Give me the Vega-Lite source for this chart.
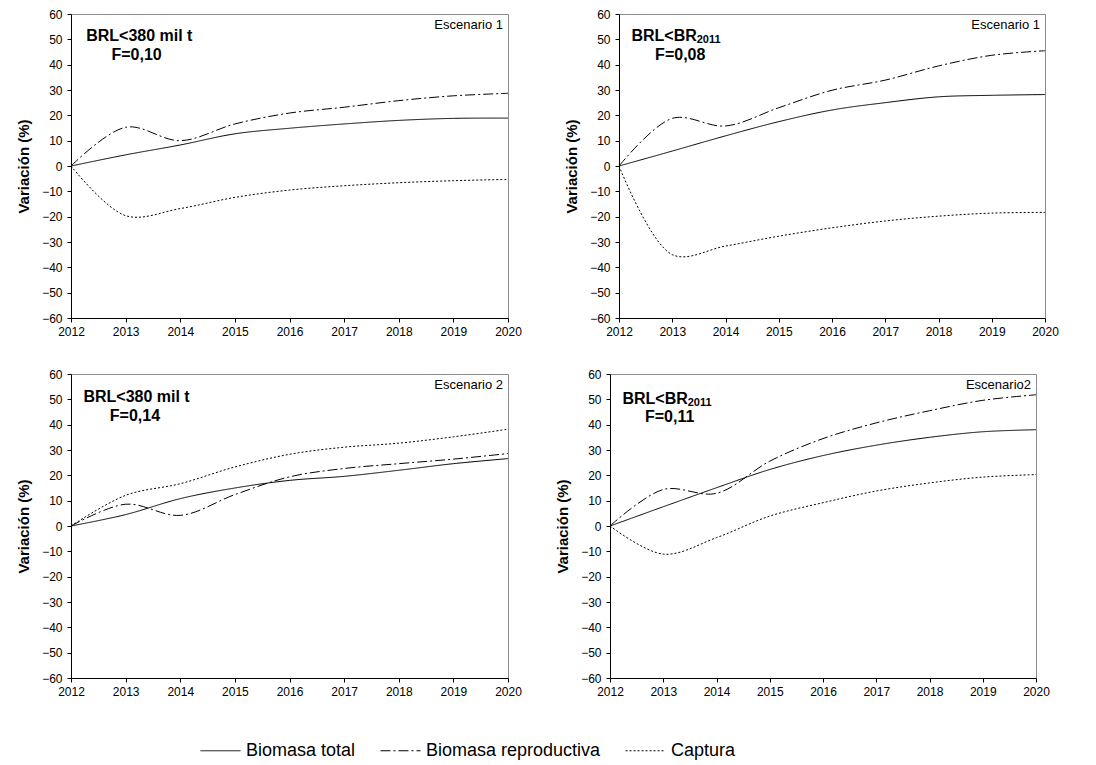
{
  "$schema": "https://vega.github.io/schema/vega-lite/v6.json",
  "padding": {"left": 16, "top": 7, "right": 5, "bottom": 5},
  "background": "white",
  "datasets": {
    "series": [
      {"p": 1, "year": 2012, "Biomasa total": 0, "Biomasa reproductiva": 0, "Captura": 0},
      {"p": 1, "year": 2013, "Biomasa total": 4.4, "Biomasa reproductiva": 15.3, "Captura": -19.6},
      {"p": 1, "year": 2014, "Biomasa total": 8.3, "Biomasa reproductiva": 10.0, "Captura": -16.8},
      {"p": 1, "year": 2015, "Biomasa total": 12.7, "Biomasa reproductiva": 16.6, "Captura": -12.4},
      {"p": 1, "year": 2016, "Biomasa total": 14.9, "Biomasa reproductiva": 20.9, "Captura": -9.5},
      {"p": 1, "year": 2017, "Biomasa total": 16.6, "Biomasa reproductiva": 23.2, "Captura": -7.8},
      {"p": 1, "year": 2018, "Biomasa total": 18.0, "Biomasa reproductiva": 25.8, "Captura": -6.6},
      {"p": 1, "year": 2019, "Biomasa total": 18.8, "Biomasa reproductiva": 27.7, "Captura": -5.8},
      {"p": 1, "year": 2020, "Biomasa total": 18.9, "Biomasa reproductiva": 28.7, "Captura": -5.3},
      {"p": 2, "year": 2012, "Biomasa total": 0, "Biomasa reproductiva": 0, "Captura": 0},
      {"p": 2, "year": 2013, "Biomasa total": 5.9, "Biomasa reproductiva": 18.8, "Captura": -35.0},
      {"p": 2, "year": 2014, "Biomasa total": 11.9, "Biomasa reproductiva": 15.8, "Captura": -31.6},
      {"p": 2, "year": 2015, "Biomasa total": 17.5, "Biomasa reproductiva": 23.0, "Captura": -27.7},
      {"p": 2, "year": 2016, "Biomasa total": 22.1, "Biomasa reproductiva": 29.9, "Captura": -24.4},
      {"p": 2, "year": 2017, "Biomasa total": 25.0, "Biomasa reproductiva": 33.9, "Captura": -21.7},
      {"p": 2, "year": 2018, "Biomasa total": 27.3, "Biomasa reproductiva": 39.5, "Captura": -19.8},
      {"p": 2, "year": 2019, "Biomasa total": 27.9, "Biomasa reproductiva": 43.7, "Captura": -18.6},
      {"p": 2, "year": 2020, "Biomasa total": 28.2, "Biomasa reproductiva": 45.5, "Captura": -18.3},
      {"p": 3, "year": 2012, "Biomasa total": 0, "Biomasa reproductiva": 0, "Captura": 0},
      {"p": 3, "year": 2013, "Biomasa total": 4.5, "Biomasa reproductiva": 8.6, "Captura": 12.1},
      {"p": 3, "year": 2014, "Biomasa total": 10.8, "Biomasa reproductiva": 4.2, "Captura": 16.7},
      {"p": 3, "year": 2015, "Biomasa total": 15.0, "Biomasa reproductiva": 12.4, "Captura": 23.3},
      {"p": 3, "year": 2016, "Biomasa total": 18.0, "Biomasa reproductiva": 19.4, "Captura": 28.3},
      {"p": 3, "year": 2017, "Biomasa total": 19.6, "Biomasa reproductiva": 22.7, "Captura": 31.1},
      {"p": 3, "year": 2018, "Biomasa total": 22.0, "Biomasa reproductiva": 24.6, "Captura": 32.7},
      {"p": 3, "year": 2019, "Biomasa total": 24.6, "Biomasa reproductiva": 26.4, "Captura": 35.2},
      {"p": 3, "year": 2020, "Biomasa total": 26.6, "Biomasa reproductiva": 28.6, "Captura": 38.2},
      {"p": 4, "year": 2012, "Biomasa total": 0, "Biomasa reproductiva": 0, "Captura": 0},
      {"p": 4, "year": 2013, "Biomasa total": 7.6, "Biomasa reproductiva": 14.4, "Captura": -11.1},
      {"p": 4, "year": 2014, "Biomasa total": 15.1, "Biomasa reproductiva": 12.9, "Captura": -4.6},
      {"p": 4, "year": 2015, "Biomasa total": 22.3, "Biomasa reproductiva": 25.6, "Captura": 3.9},
      {"p": 4, "year": 2016, "Biomasa total": 27.8, "Biomasa reproductiva": 34.5, "Captura": 9.2},
      {"p": 4, "year": 2017, "Biomasa total": 31.9, "Biomasa reproductiva": 40.7, "Captura": 13.8},
      {"p": 4, "year": 2018, "Biomasa total": 35.0, "Biomasa reproductiva": 45.5, "Captura": 17.0},
      {"p": 4, "year": 2019, "Biomasa total": 37.2, "Biomasa reproductiva": 49.6, "Captura": 19.3},
      {"p": 4, "year": 2020, "Biomasa total": 38.0, "Biomasa reproductiva": 51.8, "Captura": 20.3}
    ],
    "one": [{}]
  },
  "vconcat": [
    {
      "hconcat": [
        {
          "width": 437, "height": 304,
          "encoding": {
            "x": {"type": "quantitative", "scale": {"domain": [2012, 2020], "nice": false, "zero": false}, "axis": {"title": null, "values": [2012, 2013, 2014, 2015, 2016, 2017, 2018, 2019, 2020], "format": "d"}},
            "y": {"type": "quantitative", "scale": {"domain": [-60, 60], "nice": false}, "axis": {"title": "Variación (%)", "values": [-60, -50, -40, -30, -20, -10, 0, 10, 20, 30, 40, 50, 60]}}
          },
          "layer": [
            {
              "data": {"name": "series"},
              "transform": [{"filter": "datum.p == 1"}, {"fold": ["Biomasa total", "Biomasa reproductiva", "Captura"], "as": ["serie", "valor"]}],
              "mark": {"type": "line", "color": "black", "strokeWidth": 1, "interpolate": "catmull-rom"},
              "encoding": {
                "x": {"field": "year"},
                "y": {"field": "valor"},
                "strokeDash": {"field": "serie", "type": "nominal", "title": null, "scale": {"domain": ["Biomasa total", "Biomasa reproductiva", "Captura"], "range": [[1, 0], [10, 3, 2, 3], [2, 2]]}}
              }
            },
            {"data": {"name": "one"}, "mark": {"type": "text", "text": "BRL<380 mil t", "fontWeight": "bold", "fontSize": 16, "align": "center", "baseline": "middle"}, "encoding": {"x": {"datum": 2013.25}, "y": {"datum": 51.2}}},
            {"data": {"name": "one"}, "mark": {"type": "text", "text": "F=0,10", "fontWeight": "bold", "fontSize": 16, "align": "center", "baseline": "middle"}, "encoding": {"x": {"datum": 2013.2}, "y": {"datum": 43.7}}},
            {"data": {"name": "one"}, "mark": {"type": "text", "text": "Escenario 1", "fontSize": 13, "align": "right", "baseline": "top", "dx": -5, "dy": 5}, "encoding": {"x": {"datum": 2020}, "y": {"datum": 60}}}
          ]
        },
        {
          "width": 426, "height": 304,
          "encoding": {
            "x": {"type": "quantitative", "scale": {"domain": [2012, 2020], "nice": false, "zero": false}, "axis": {"title": null, "values": [2012, 2013, 2014, 2015, 2016, 2017, 2018, 2019, 2020], "format": "d"}},
            "y": {"type": "quantitative", "scale": {"domain": [-60, 60], "nice": false}, "axis": {"title": "Variación (%)", "values": [-60, -50, -40, -30, -20, -10, 0, 10, 20, 30, 40, 50, 60]}}
          },
          "layer": [
            {
              "data": {"name": "series"},
              "transform": [{"filter": "datum.p == 2"}, {"fold": ["Biomasa total", "Biomasa reproductiva", "Captura"], "as": ["serie", "valor"]}],
              "mark": {"type": "line", "color": "black", "strokeWidth": 1, "interpolate": "catmull-rom"},
              "encoding": {
                "x": {"field": "year"},
                "y": {"field": "valor"},
                "strokeDash": {"field": "serie", "type": "nominal", "title": null, "scale": {"domain": ["Biomasa total", "Biomasa reproductiva", "Captura"], "range": [[1, 0], [10, 3, 2, 3], [2, 2]]}}
              }
            },
            {"data": {"name": "one"}, "mark": {"type": "text", "text": "BRL<BR", "fontWeight": "bold", "fontSize": 16, "align": "right", "baseline": "middle"}, "encoding": {"x": {"datum": 2013.46}, "y": {"datum": 51.2}}},
            {"data": {"name": "one"}, "mark": {"type": "text", "text": "2011", "fontWeight": "bold", "fontSize": 11, "align": "left", "baseline": "middle", "dy": 4}, "encoding": {"x": {"datum": 2013.46}, "y": {"datum": 51.2}}},
            {"data": {"name": "one"}, "mark": {"type": "text", "text": "F=0,08", "fontWeight": "bold", "fontSize": 16, "align": "center", "baseline": "middle"}, "encoding": {"x": {"datum": 2013.15}, "y": {"datum": 43.7}}},
            {"data": {"name": "one"}, "mark": {"type": "text", "text": "Escenario 1", "fontSize": 13, "align": "right", "baseline": "top", "dx": -5, "dy": 5}, "encoding": {"x": {"datum": 2020}, "y": {"datum": 60}}}
          ]
        }
      ],
      "spacing": 42
    },
    {
      "hconcat": [
        {
          "width": 437, "height": 304,
          "encoding": {
            "x": {"type": "quantitative", "scale": {"domain": [2012, 2020], "nice": false, "zero": false}, "axis": {"title": null, "values": [2012, 2013, 2014, 2015, 2016, 2017, 2018, 2019, 2020], "format": "d"}},
            "y": {"type": "quantitative", "scale": {"domain": [-60, 60], "nice": false}, "axis": {"title": "Variación (%)", "values": [-60, -50, -40, -30, -20, -10, 0, 10, 20, 30, 40, 50, 60]}}
          },
          "layer": [
            {
              "data": {"name": "series"},
              "transform": [{"filter": "datum.p == 3"}, {"fold": ["Biomasa total", "Biomasa reproductiva", "Captura"], "as": ["serie", "valor"]}],
              "mark": {"type": "line", "color": "black", "strokeWidth": 1, "interpolate": "catmull-rom"},
              "encoding": {
                "x": {"field": "year"},
                "y": {"field": "valor"},
                "strokeDash": {"field": "serie", "type": "nominal", "title": null, "scale": {"domain": ["Biomasa total", "Biomasa reproductiva", "Captura"], "range": [[1, 0], [10, 3, 2, 3], [2, 2]]}}
              }
            },
            {"data": {"name": "one"}, "mark": {"type": "text", "text": "BRL<380 mil t", "fontWeight": "bold", "fontSize": 16, "align": "center", "baseline": "middle"}, "encoding": {"x": {"datum": 2013.2}, "y": {"datum": 50.9}}},
            {"data": {"name": "one"}, "mark": {"type": "text", "text": "F=0,14", "fontWeight": "bold", "fontSize": 16, "align": "center", "baseline": "middle"}, "encoding": {"x": {"datum": 2013.17}, "y": {"datum": 43.4}}},
            {"data": {"name": "one"}, "mark": {"type": "text", "text": "Escenario 2", "fontSize": 13, "align": "right", "baseline": "top", "dx": -5, "dy": 5}, "encoding": {"x": {"datum": 2020}, "y": {"datum": 60}}}
          ]
        },
        {
          "width": 426, "height": 304,
          "encoding": {
            "x": {"type": "quantitative", "scale": {"domain": [2012, 2020], "nice": false, "zero": false}, "axis": {"title": null, "values": [2012, 2013, 2014, 2015, 2016, 2017, 2018, 2019, 2020], "format": "d"}},
            "y": {"type": "quantitative", "scale": {"domain": [-60, 60], "nice": false}, "axis": {"title": "Variación (%)", "values": [-60, -50, -40, -30, -20, -10, 0, 10, 20, 30, 40, 50, 60]}}
          },
          "layer": [
            {
              "data": {"name": "series"},
              "transform": [{"filter": "datum.p == 4"}, {"fold": ["Biomasa total", "Biomasa reproductiva", "Captura"], "as": ["serie", "valor"]}],
              "mark": {"type": "line", "color": "black", "strokeWidth": 1, "interpolate": "catmull-rom"},
              "encoding": {
                "x": {"field": "year"},
                "y": {"field": "valor"},
                "strokeDash": {"field": "serie", "type": "nominal", "title": null, "scale": {"domain": ["Biomasa total", "Biomasa reproductiva", "Captura"], "range": [[1, 0], [10, 3, 2, 3], [2, 2]]}}
              }
            },
            {"data": {"name": "one"}, "mark": {"type": "text", "text": "BRL<BR", "fontWeight": "bold", "fontSize": 16, "align": "right", "baseline": "middle"}, "encoding": {"x": {"datum": 2013.46}, "y": {"datum": 50.2}}},
            {"data": {"name": "one"}, "mark": {"type": "text", "text": "2011", "fontWeight": "bold", "fontSize": 11, "align": "left", "baseline": "middle", "dy": 4}, "encoding": {"x": {"datum": 2013.46}, "y": {"datum": 50.2}}},
            {"data": {"name": "one"}, "mark": {"type": "text", "text": "F=0,11", "fontWeight": "bold", "fontSize": 16, "align": "center", "baseline": "middle"}, "encoding": {"x": {"datum": 2013.12}, "y": {"datum": 43.1}}},
            {"data": {"name": "one"}, "mark": {"type": "text", "text": "Escenario2", "fontSize": 13, "align": "right", "baseline": "top", "dx": -5, "dy": 5}, "encoding": {"x": {"datum": 2020}, "y": {"datum": 60}}}
          ]
        }
      ],
      "spacing": 33
    }
  ],
  "spacing": 29,
  "resolve": {"scale": {"strokeDash": "shared"}, "legend": {"strokeDash": "shared"}},
  "config": {
    "font": "Liberation Sans",
    "view": {"stroke": "#8c8c8c", "strokeWidth": 1},
    "text": {"color": "black", "font": "Liberation Sans"},
    "axis": {
      "grid": false,
      "domainColor": "black",
      "domainWidth": 1,
      "tickColor": "black",
      "tickSize": 4,
      "labelFont": "Liberation Sans",
      "labelFontSize": 12,
      "labelColor": "black",
      "labelPadding": 4,
      "labelOverlap": false,
      "labelFlush": false,
      "titleFont": "Liberation Sans",
      "titleFontSize": 15,
      "titleFontWeight": "bold",
      "titleColor": "black",
      "titlePadding": 10
    },
    "axisY": {"labelPadding": 5},
    "legend": {
      "orient": "none",
      "legendX": 129,
      "legendY": 716,
      "direction": "horizontal",
      "columns": 3,
      "columnPadding": 22,
      "symbolType": "stroke",
      "symbolSize": 1600,
      "symbolStrokeWidth": 1,
      "symbolStrokeColor": "black",
      "labelFont": "Liberation Sans",
      "labelFontSize": 18,
      "labelColor": "black",
      "labelOffset": 5,
      "labelLimit": 400
    }
  }
}
